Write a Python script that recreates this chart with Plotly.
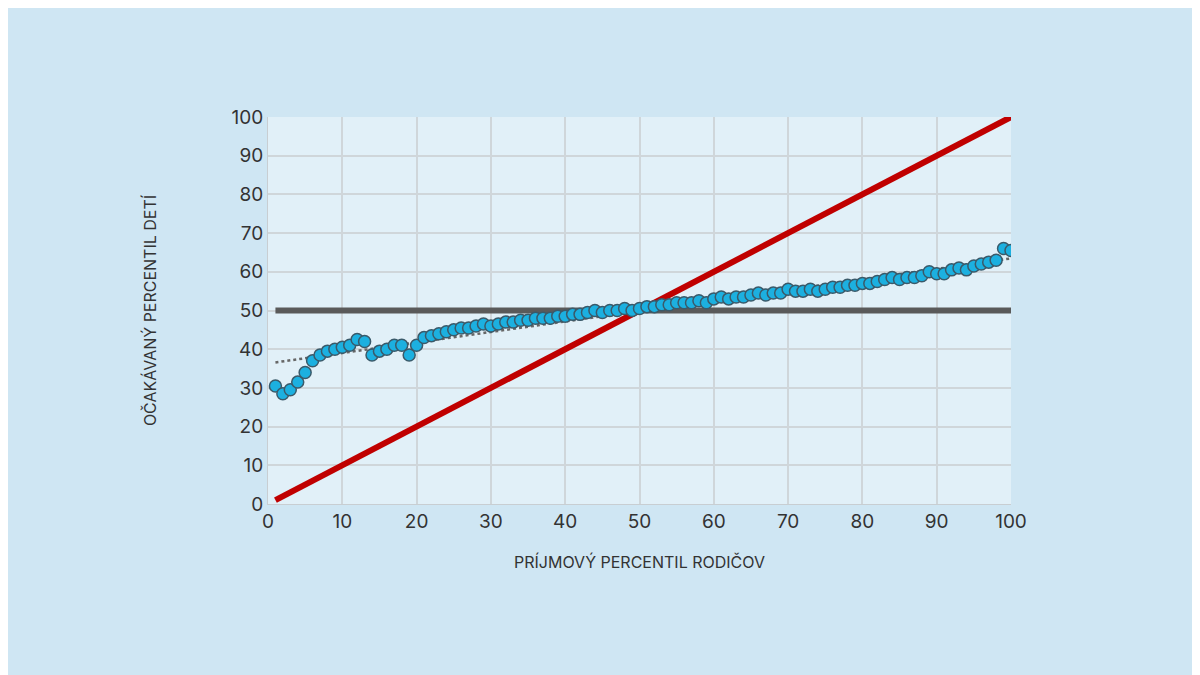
import numpy as np
import plotly.graph_objects as go

parent_pct = list(range(1, 101))
child_pct = [30.5, 28.5, 29.5, 31.5, 34, 37, 38.5, 39.5, 40, 40.5,
             41, 42.5, 42, 38.5, 39.5, 40, 41, 41, 38.5, 41,
             43, 43.5, 44, 44.5, 45, 45.5, 45.5, 46, 46.5, 46,
             46.5, 47, 47, 47.5, 47.5, 48, 48, 48, 48.5, 48.5,
             49, 49, 49.5, 50, 49.5, 50, 50, 50.5, 50, 50.5,
             51, 51, 51.5, 51.5, 52, 52, 52, 52.5, 52, 53,
             53.5, 53, 53.5, 53.5, 54, 54.5, 54, 54.5, 54.5, 55.5,
             55, 55, 55.5, 55, 55.5, 56, 56, 56.5, 56.5, 57,
             57, 57.5, 58, 58.5, 58, 58.5, 58.5, 59, 60, 59.5,
             59.5, 60.5, 61, 60.5, 61.5, 62, 62.5, 63, 66, 65.5]
equal_line = 50

x = np.array(parent_pct)
slope, intercept = np.polyfit(x, np.array(child_pct), 1)
trend = slope * x + intercept

fig = go.Figure()
fig.add_trace(go.Scatter(x=parent_pct, y=[equal_line]*len(parent_pct), mode="lines",
                         line=dict(color="#5a5a5a", width=6), hoverinfo="skip"))
fig.add_trace(go.Scatter(x=parent_pct, y=parent_pct, mode="lines",
                         line=dict(color="#c00000", width=6), hoverinfo="skip"))
fig.add_trace(go.Scatter(x=parent_pct, y=trend, mode="lines",
                         line=dict(color="#666666", width=2.5, dash="dot")))
fig.add_trace(go.Scatter(x=parent_pct, y=child_pct, mode="markers",
                         marker=dict(size=12, color="#1cb0e0", line=dict(color="#3a5a6a", width=1.5))))

fig.update_layout(
    width=1200, height=675, showlegend=False,
    paper_bgcolor="#cfe6f3", plot_bgcolor="rgba(240,248,252,0.55)",
    margin=dict(l=260, r=197, t=109, b=179),
    font=dict(family="Inter, Open Sans, sans-serif", color="#333333"),
)
fig.update_xaxes(range=[0, 100], dtick=10, showgrid=True, gridcolor="#cfd6da", gridwidth=1.5,
                 zeroline=False, showline=True, linecolor="#c8ced2", tickfont=dict(size=19, color="#333"),
                 ticks="", title=dict(text="PRÍJMOVÝ PERCENTIL RODIČOV", font=dict(size=16, color="#333"), standoff=25))
fig.update_yaxes(range=[0, 100], dtick=10, showgrid=True, gridcolor="#cfd6da", gridwidth=1.5,
                 zeroline=False, showline=True, linecolor="#c8ced2", tickfont=dict(size=19, color="#333"),
                 ticks="", title=dict(text="OČAKÁVANÝ PERCENTIL DETÍ", font=dict(size=16, color="#333"), standoff=70))
fig.write_html("out.html")
